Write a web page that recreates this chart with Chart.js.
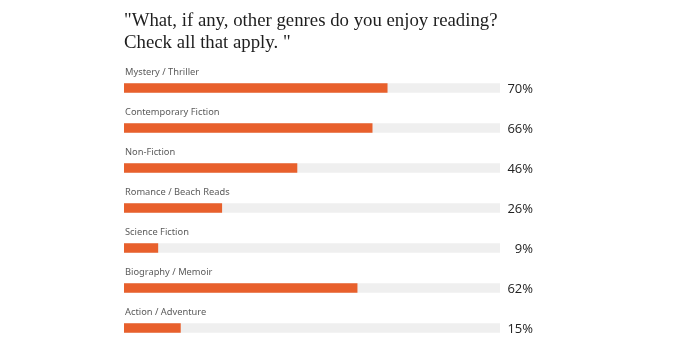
<!DOCTYPE html>
<html>
<head>
<meta charset="utf-8">
<script src="https://cdn.jsdelivr.net/npm/chart.js@4"></script>
<style>
  html, body { margin: 0; padding: 0; background: #fff; }
  #wrap { width: 700px; height: 360px; position: relative; }
</style>
</head>
<body>
<div id="wrap"><canvas id="myBar" width="700" height="360"></canvas></div>
<script>
var titleLines = ['"What, if any, other genres do you enjoy reading?', 'Check all that apply. "'];
var genres = ['Mystery / Thriller', 'Contemporary Fiction', 'Non-Fiction', 'Romance / Beach Reads', 'Science Fiction', 'Biography / Memoir', 'Action / Adventure'];
var percents = [70, 66, 46, 26, 9, 62, 15];
var track = [100, 100, 100, 100, 100, 100, 100];

// category names above each bar, percentages to the right
var labelsPlugin = {
    id: 'rowLabels',
    afterDatasetsDraw: (chart) => {
        var ctx = chart.ctx;
        var y = chart.scales.y;
        var area = chart.chartArea;
        ctx.save();
        genres.forEach((g, i) => {
            var cy = y.getPixelForValue(i);
            ctx.fillStyle = '#5a5a5a';
            ctx.font = '9.3px "Noto Sans", sans-serif';
            ctx.textAlign = 'left';
            ctx.textBaseline = 'middle';
            ctx.fillText(g, area.left + 1, cy - 16);
            ctx.fillStyle = '#222';
            ctx.font = '13px "Open Sans", sans-serif';
            ctx.textAlign = 'right';
            ctx.fillText(percents[i] + '%', area.right + 33, cy + 1);
        });
        ctx.fillStyle = '#1e1e1e';
        ctx.font = '18.8px "Liberation Serif", serif';
        ctx.textAlign = 'left';
        ctx.textBaseline = 'alphabetic';
        ctx.fillText(titleLines[0], area.left, 26);
        ctx.fillText(titleLines[1], area.left, 48);
        ctx.restore();
    }
};

var barPosition = document.getElementById('myBar').getContext('2d');

var myBarChart = new Chart(barPosition, {
    type: 'bar',
    data: {
        labels: genres,
        datasets: [{
            data: percents,
            backgroundColor: '#e8602c',
            barThickness: 9,
            grouped: false
        }, {
            data: track,
            backgroundColor: '#efefef',
            barThickness: 9,
            grouped: false
        }]
    },
    options: {
        indexAxis: 'y',
        responsive: false,
        animation: false,
        layout: { padding: { left: 124, right: 200, top: 68, bottom: 12 } },
        scales: {
            x: { display: false, min: 0, max: 100 },
            y: { display: false }
        },
        plugins: {
            legend: { display: false },
            tooltip: { enabled: false }
        }
    },
    plugins: [labelsPlugin]
});
</script>
</body>
</html>
